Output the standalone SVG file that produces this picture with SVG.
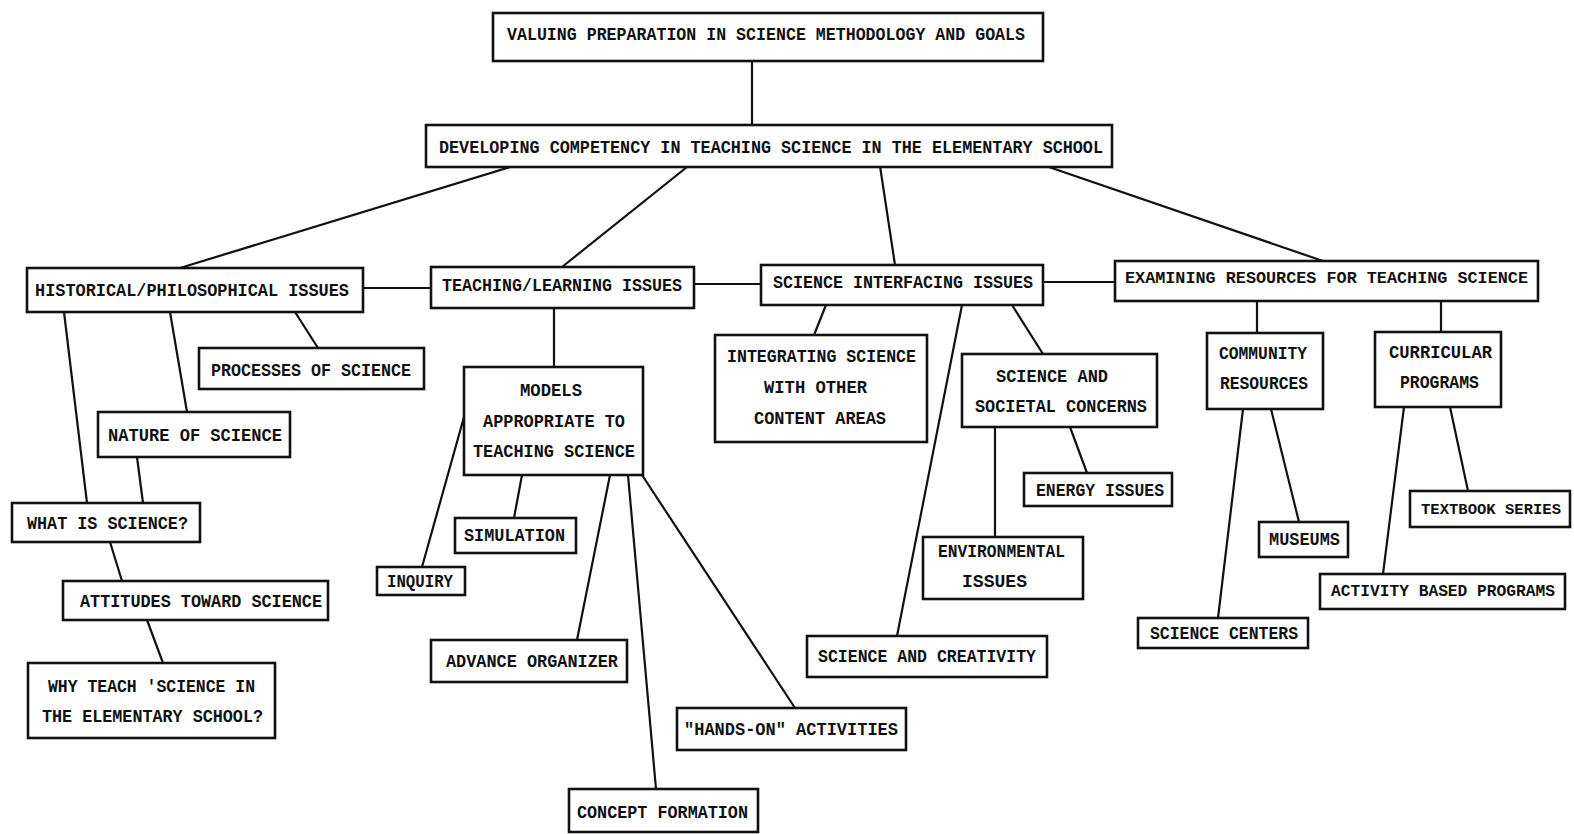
<svg xmlns="http://www.w3.org/2000/svg" width="1574" height="834" viewBox="0 0 1574 834">
<style>
.b{fill:#fff;stroke:#111;stroke-width:2.6}
.t{font-family:"Liberation Mono","DejaVu Sans Mono",monospace;font-size:19px;font-weight:bold;fill:#111}
.s{font-size:16.5px}
.c line{stroke:#111;stroke-width:2.2;stroke-linecap:round}
</style>
<rect width="1574" height="834" fill="#fff"/>
<g class="c" id="connectors">
<line x1="752" y1="60" x2="752" y2="126"/>
<line x1="510" y1="167" x2="180" y2="268"/>
<line x1="687" y1="167" x2="562" y2="267"/>
<line x1="880" y1="166" x2="895" y2="265"/>
<line x1="1043" y1="165" x2="1323" y2="261"/>
<line x1="363" y1="288" x2="431" y2="288"/>
<line x1="694" y1="284" x2="761" y2="284"/>
<line x1="1043" y1="282" x2="1116" y2="282"/>
<line x1="295" y1="312" x2="318" y2="348"/>
<line x1="170" y1="312" x2="187" y2="412"/>
<line x1="64" y1="312" x2="87" y2="503"/>
<line x1="137" y1="457" x2="143" y2="503"/>
<line x1="110" y1="542" x2="122" y2="581"/>
<line x1="147" y1="620" x2="163" y2="663"/>
<line x1="554" y1="308" x2="554" y2="367"/>
<line x1="464" y1="417" x2="422" y2="567"/>
<line x1="522" y1="475" x2="514" y2="518"/>
<line x1="610" y1="475" x2="577" y2="640"/>
<line x1="628" y1="475" x2="656" y2="789"/>
<line x1="642" y1="475" x2="795" y2="708"/>
<line x1="826" y1="305" x2="814" y2="335"/>
<line x1="962" y1="305" x2="897" y2="636"/>
<line x1="1012" y1="305" x2="1043" y2="354"/>
<line x1="995" y1="427" x2="995" y2="537"/>
<line x1="1070" y1="427" x2="1087" y2="473"/>
<line x1="1257" y1="301" x2="1257" y2="333"/>
<line x1="1441" y1="301" x2="1441" y2="332"/>
<line x1="1243" y1="409" x2="1218" y2="618"/>
<line x1="1271" y1="409" x2="1299" y2="522"/>
<line x1="1404" y1="407" x2="1383" y2="574"/>
<line x1="1450" y1="407" x2="1468" y2="491"/>
</g>
<g id="n-valuing"><rect class="b" x="493" y="13" width="550" height="48"/><text class="t" x="507" y="40" textLength="518" lengthAdjust="spacingAndGlyphs">VALUING PREPARATION IN SCIENCE METHODOLOGY AND GOALS</text></g>
<g id="n-developing"><rect class="b" x="426" y="125" width="686" height="42"/><text class="t" x="439" y="153" textLength="664" lengthAdjust="spacingAndGlyphs">DEVELOPING COMPETENCY IN TEACHING SCIENCE IN THE ELEMENTARY SCHOOL</text></g>
<g id="n-historical"><rect class="b" x="27" y="268" width="336" height="44"/><text class="t" x="35" y="296" textLength="314" lengthAdjust="spacingAndGlyphs">HISTORICAL/PHILOSOPHICAL ISSUES</text></g>
<g id="n-teaching"><rect class="b" x="431" y="267" width="263" height="41"/><text class="t" x="442" y="291" textLength="240" lengthAdjust="spacingAndGlyphs">TEACHING/LEARNING ISSUES</text></g>
<g id="n-interfacing"><rect class="b" x="761" y="265" width="282" height="40"/><text class="t" x="773" y="288" textLength="260" lengthAdjust="spacingAndGlyphs">SCIENCE INTERFACING ISSUES</text></g>
<g id="n-examining"><rect class="b" x="1115" y="261" width="423" height="40"/><text class="t s" x="1125" y="283" textLength="403" lengthAdjust="spacingAndGlyphs">EXAMINING RESOURCES FOR TEACHING SCIENCE</text></g>
<g id="n-processes"><rect class="b" x="199" y="348" width="225" height="41"/><text class="t" x="211" y="376" textLength="200" lengthAdjust="spacingAndGlyphs">PROCESSES OF SCIENCE</text></g>
<g id="n-nature"><rect class="b" x="98" y="412" width="192" height="45"/><text class="t" x="108" y="441" textLength="174" lengthAdjust="spacingAndGlyphs">NATURE OF SCIENCE</text></g>
<g id="n-what"><rect class="b" x="12" y="503" width="188" height="39"/><text class="t" x="27" y="529" textLength="161" lengthAdjust="spacingAndGlyphs">WHAT IS SCIENCE?</text></g>
<g id="n-attitudes"><rect class="b" x="63" y="581" width="265" height="39"/><text class="t" x="80" y="607" textLength="242" lengthAdjust="spacingAndGlyphs">ATTITUDES TOWARD SCIENCE</text></g>
<g id="n-why"><rect class="b" x="28" y="663" width="247" height="75"/><text class="t" x="48" y="692" textLength="207" lengthAdjust="spacingAndGlyphs">WHY TEACH 'SCIENCE IN</text><text class="t" x="42" y="722" textLength="221" lengthAdjust="spacingAndGlyphs">THE ELEMENTARY SCHOOL?</text></g>
<g id="n-models"><rect class="b" x="464" y="367" width="179" height="108"/><text class="t" x="520" y="396" textLength="62" lengthAdjust="spacingAndGlyphs">MODELS</text><text class="t" x="483" y="427" textLength="142" lengthAdjust="spacingAndGlyphs">APPROPRIATE TO</text><text class="t" x="473" y="457" textLength="162" lengthAdjust="spacingAndGlyphs">TEACHING SCIENCE</text></g>
<g id="n-simulation"><rect class="b" x="455" y="518" width="121" height="35"/><text class="t" x="464" y="541" textLength="101" lengthAdjust="spacingAndGlyphs">SIMULATION</text></g>
<g id="n-inquiry"><rect class="b" x="377" y="567" width="88" height="28"/><text class="t" x="387" y="587" textLength="66" lengthAdjust="spacingAndGlyphs">INQUIRY</text></g>
<g id="n-advance"><rect class="b" x="431" y="640" width="196" height="42"/><text class="t" x="446" y="667" textLength="172" lengthAdjust="spacingAndGlyphs">ADVANCE ORGANIZER</text></g>
<g id="n-concept"><rect class="b" x="569" y="789" width="189" height="43"/><text class="t" x="577" y="818" textLength="171" lengthAdjust="spacingAndGlyphs">CONCEPT FORMATION</text></g>
<g id="n-handson"><rect class="b" x="677" y="708" width="229" height="42"/><text class="t" x="684" y="735" textLength="214" lengthAdjust="spacingAndGlyphs">"HANDS-ON" ACTIVITIES</text></g>
<g id="n-integrating"><rect class="b" x="715" y="335" width="212" height="107"/><text class="t" x="727" y="362" textLength="189" lengthAdjust="spacingAndGlyphs">INTEGRATING SCIENCE</text><text class="t" x="764" y="393" textLength="103" lengthAdjust="spacingAndGlyphs">WITH OTHER</text><text class="t" x="754" y="424" textLength="132" lengthAdjust="spacingAndGlyphs">CONTENT AREAS</text></g>
<g id="n-societal"><rect class="b" x="962" y="354" width="195" height="73"/><text class="t" x="996" y="382" textLength="112" lengthAdjust="spacingAndGlyphs">SCIENCE AND</text><text class="t" x="975" y="412" textLength="172" lengthAdjust="spacingAndGlyphs">SOCIETAL CONCERNS</text></g>
<g id="n-energy"><rect class="b" x="1024" y="473" width="148" height="33"/><text class="t" x="1036" y="496" textLength="128" lengthAdjust="spacingAndGlyphs">ENERGY ISSUES</text></g>
<g id="n-environmental"><rect class="b" x="923" y="537" width="160" height="62"/><text class="t" x="938" y="557" textLength="127" lengthAdjust="spacingAndGlyphs">ENVIRONMENTAL</text><text class="t" x="962" y="587" textLength="65" lengthAdjust="spacingAndGlyphs">ISSUES</text></g>
<g id="n-creativity"><rect class="b" x="807" y="636" width="240" height="41"/><text class="t" x="818" y="662" textLength="218" lengthAdjust="spacingAndGlyphs">SCIENCE AND CREATIVITY</text></g>
<g id="n-community"><rect class="b" x="1207" y="333" width="116" height="76"/><text class="t" x="1219" y="359" textLength="88" lengthAdjust="spacingAndGlyphs">COMMUNITY</text><text class="t" x="1220" y="389" textLength="88" lengthAdjust="spacingAndGlyphs">RESOURCES</text></g>
<g id="n-curricular"><rect class="b" x="1375" y="332" width="126" height="75"/><text class="t" x="1389" y="358" textLength="103" lengthAdjust="spacingAndGlyphs">CURRICULAR</text><text class="t" x="1400" y="388" textLength="79" lengthAdjust="spacingAndGlyphs">PROGRAMS</text></g>
<g id="n-museums"><rect class="b" x="1259" y="522" width="89" height="35"/><text class="t" x="1269" y="545" textLength="71" lengthAdjust="spacingAndGlyphs">MUSEUMS</text></g>
<g id="n-textbook"><rect class="b" x="1410" y="491" width="160" height="36"/><text class="t" style="font-size:15.5px" x="1421" y="514" textLength="140" lengthAdjust="spacingAndGlyphs">TEXTBOOK SERIES</text></g>
<g id="n-activity"><rect class="b" x="1320" y="574" width="245" height="35"/><text class="t" style="font-size:16px" x="1331" y="596" textLength="224" lengthAdjust="spacingAndGlyphs">ACTIVITY BASED PROGRAMS</text></g>
<g id="n-centers"><rect class="b" x="1138" y="618" width="170" height="30"/><text class="t" x="1150" y="639" textLength="148" lengthAdjust="spacingAndGlyphs">SCIENCE CENTERS</text></g>
</svg>
